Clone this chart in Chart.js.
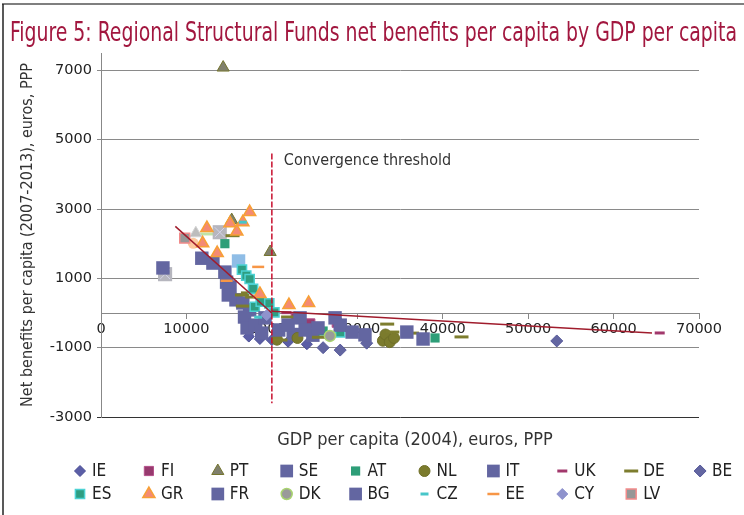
<!DOCTYPE html>
<html>
<head>
<meta charset="utf-8">
<script src="https://cdn.jsdelivr.net/npm/chart.js@4.4.1/dist/chart.umd.min.js"></script>
<style>
  html, body { margin: 0; padding: 0; background: #fff; }
  canvas { display: block; }
</style>
</head>
<body>
<canvas id="chart" width="744" height="515"></canvas>
<script>
// Legend order (two rows of ten / nine)
const countries = ['IE', 'FI', 'PT', 'SE', 'AT', 'NL', 'IT', 'UK', 'DE', 'BE',
                   'ES', 'GR', 'FR', 'DK', 'BG', 'CZ', 'EE', 'CY', 'LV'];

// [GDP per capita 2004, net benefit per capita 2007-2013]
const IE = [[18600, -750], [20000, -780], [21900, -830], [24100, -900], [17300, -680]];
const FI = [[22800, -150], [24500, -300], [27600, -280]];
const PT = [[14300, 7080], [15300, 2680], [19800, 1760]];
const SE = [[27400, -140], [24800, -640], [22500, -620]];
const AT = [[14500, 2000], [26000, -520], [39100, -720]];
const NL = [[20600, -770], [23000, -720], [33000, -800], [33300, -620], [33800, -840], [34300, -720]];
const IT = [[11800, 1580], [13100, 1440], [14500, 1180], [14700, 890], [15100, 750], [14900, 520],
            [15800, 380], [16600, 290], [17400, 90], [16800, -115], [17100, -430], [18100, -350], [18800, -580]];
const UK = [[21700, 10], [23400, -40], [65400, -576]];
const DE = [[15400, 2230], [16500, 520], [16600, 200], [17200, 580], [17700, 460], [21900, -115], [21000, -780],
            [25500, -700], [33500, -320], [34100, -550], [36400, -580], [42200, -690]];
const BE = [[26000, -1000], [28000, -1070], [31100, -870], [53350, -806]];
const ES = [[16500, 1250], [17000, 1080], [17400, 980], [17800, 700], [18000, 180], [18700, 330],
            [19700, 280], [20300, 20], [28000, -560]];
const GR = [[11900, 2010], [12400, 2450], [13600, 1730], [15100, 2590], [15900, 2350], [16600, 2620],
            [17400, 2910], [18600, 550], [22000, 230], [24300, 290]];
const FR = [[19200, -140], [20800, -490], [21900, -350], [23300, -140], [23900, -490], [25400, -430],
            [28000, -350], [29400, -550], [30900, -630], [35800, -550], [37700, -750]];
const DK = [[26800, -660]];
const BG = [[7250, 1300]];
const CZ = [[16600, 2620], [18400, -120]];
const EE = [[14700, 930], [18400, 1330]];
const CY = [[19400, -60]];
const LV = [[9800, 2160]];

// regions plotted but not listed in the legend
const greySquares = [[7500, 1120], [13900, 2330]];
const blueSquares = [[16100, 1500]];
const peachDots = [[10800, 2010]];
const greyTriangles = [[11100, 2300]];
const paleDashes = [[12400, 2280]];

// trend lines and the convergence threshold
const trendLow = [[8700, 2500], [20000, 0]];
const trendHigh = [[20000, 50], [64500, -580]];
const threshold = [[20000, 4600], [20000, -2600]];
const thresholdLabel = 'Convergence threshold';

const xTicks = [0, 10000, 20000, 30000, 40000, 50000, 60000, 70000];
const yTicks = [-3000, -1000, 1000, 3000, 5000, 7000];

const seriesData = { IE, FI, PT, SE, AT, NL, IT, UK, DE, BE, ES, GR, FR, DK, BG, CZ, EE, CY, LV };

const slate = { shape: 'rect', size: 9.5, fill: '#6366a1', line: '#6366a1', lw: 0 };
const styles = {
    IE: { shape: 'rectRot', size: 5.5, fill: '#5b5ea6', line: '#484b94', lw: 1 },
    FI: { shape: 'rect', size: 6.5, fill: '#973a6e', line: '#b5508a', lw: 1 },
    PT: { shape: 'triangle', size: 7, fill: '#80806c', line: '#75752e', lw: 1 },
    SE: slate,
    AT: { shape: 'rect', size: 6.5, fill: '#2e9e78', line: '#2e9e78', lw: 0 },
    NL: { shape: 'circle', size: 5.5, fill: '#7b7b2d', line: '#6f6f28', lw: 1 },
    IT: slate,
    UK: { shape: 'line', size: 5, fill: '#a2386c', line: '#a2386c', lw: 3 },
    DE: { shape: 'line', size: 7, fill: '#7d7d2e', line: '#7d7d2e', lw: 3 },
    BE: { shape: 'rectRot', size: 6, fill: '#6366a1', line: '#555899', lw: 1 },
    ES: { shape: 'rect', size: 6.5, fill: '#2e9e82', line: '#4cd2d4', lw: 1.5 },
    GR: { shape: 'triangle', size: 7, fill: '#f48a74', line: '#f7a035', lw: 1.5 },
    FR: slate,
    DK: { shape: 'circle', size: 5.5, fill: '#9a9a9a', line: '#a9d46f', lw: 1.5 },
    BG: slate,
    CZ: { shape: 'line', size: 4, fill: '#47c6c9', line: '#47c6c9', lw: 3 },
    EE: { shape: 'line', size: 6, fill: '#f79646', line: '#f79646', lw: 2.5 },
    CY: { shape: 'rectRot', size: 5.5, fill: '#8f93cd', line: '#8f93cd', lw: 1 },
    LV: { shape: 'rect', size: 7, fill: '#979797', line: '#f28b8b', lw: 1.5 }
};

const narrow = '"Liberation Sans Narrow", "DejaVu Sans Condensed", sans-serif';
const toXY = arr => arr.map(p => ({ x: p[0], y: p[1] }));

function scatterSet(label, data, s, order) {
    return {
        type: 'scatter', label, data: toXY(data), order,
        pointStyle: s.shape, pointRadius: s.size, pointHoverRadius: s.size,
        backgroundColor: s.fill, borderColor: s.line, borderWidth: s.lw
    };
}

function lineSet(label, data, color, dash) {
    return {
        type: 'line', label, data: toXY(data), order: -100,
        borderColor: color, borderWidth: 1.5, borderDash: dash || [],
        pointRadius: 0, fill: false, tension: 0
    };
}

const datasets = [
    scatterSet('', greySquares, { shape: 'rect', size: 10, fill: '#b6b6be', line: '#b6b6be', lw: 0 }, 1),
    scatterSet('', greySquares, { shape: 'crossRot', size: 7, fill: '#d4d4ea', line: '#d4d4ea', lw: 1 }, 0.5),
    scatterSet('', blueSquares, { shape: 'rect', size: 9.5, fill: '#8fbde6', line: '#8fbde6', lw: 0 }, 1),
    scatterSet('', peachDots, { shape: 'circle', size: 5.5, fill: '#fcc9a0', line: '#fcc9a0', lw: 0 }, 1),
    scatterSet('', greyTriangles, { shape: 'triangle', size: 7, fill: '#bdbdbd', line: '#d2d2d2', lw: 1 }, 1),
    scatterSet('', paleDashes, { shape: 'line', size: 7, fill: '#bfe3a6', line: '#bfe3a6', lw: 3 }, 1)
];
countries.forEach((c, i) => datasets.push(scatterSet(c, seriesData[c], styles[c], -i)));
datasets.push(lineSet('trend', trendLow, '#a01c2c'));
datasets.push(lineSet('trend', trendHigh, '#a01c2c'));
datasets.push(lineSet('threshold', threshold, '#c8102e', [6, 2]));

// title, x title, threshold label, frame and the grid-style legend
const decorations = {
    id: 'decorations',
    beforeDraw(chart) {
        const ctx = chart.ctx;
        ctx.save();
        ctx.strokeStyle = '#7f7f7f';
        ctx.lineWidth = 2;
        ctx.beginPath(); ctx.moveTo(2, 4); ctx.lineTo(744, 4); ctx.stroke();
        ctx.strokeStyle = '#222';
        ctx.lineWidth = 1.5;
        ctx.beginPath(); ctx.moveTo(3, 4); ctx.lineTo(3, 515); ctx.stroke();
        ctx.restore();
    },
    afterDraw(chart) {
        const ctx = chart.ctx;
        const { x, y } = chart.scales;
        ctx.save();

        // title squeezed to the reference width
        const title = 'Figure 5: Regional Structural Funds net benefits per capita by GDP per capita';
        ctx.font = '27px ' + narrow;
        ctx.fillStyle = '#a2173f';
        ctx.textBaseline = 'alphabetic';
        const tw = ctx.measureText(title).width;
        ctx.save();
        ctx.translate(10, 41);
        ctx.scale(727 / tw, 1);
        ctx.fillText(title, 0, 0);
        ctx.restore();

        // x axis title
        ctx.font = '18px ' + narrow;
        ctx.fillStyle = '#333';
        ctx.textAlign = 'center';
        ctx.textBaseline = 'middle';
        ctx.fillText('GDP per capita (2004), euros, PPP', 415, 440);

        // threshold label
        ctx.font = '16px ' + narrow;
        ctx.textAlign = 'left';
        ctx.fillText(thresholdLabel, x.getPixelForValue(threshold[0][0]) + 12, y.getPixelForValue(threshold[0][1]) + 7);

        // legend
        countries.forEach((c, i) => {
            const s = styles[c];
            const lx = 80 + (i % 10) * 68.9;
            const ly = i < 10 ? 471 : 494;
            ctx.fillStyle = s.fill;
            ctx.strokeStyle = s.line;
            ctx.lineWidth = s.lw;
            Chart.helpers.drawPoint(ctx, { pointStyle: s.shape, radius: Math.min(s.size, 9), rotation: 0, borderWidth: s.lw }, lx, ly);
            ctx.fillStyle = '#222';
            ctx.font = '17px ' + narrow;
            ctx.textAlign = 'left';
            ctx.textBaseline = 'middle';
            ctx.fillText(c, lx + 12, ly + 1);
        });
        ctx.restore();
    }
};

const tickFont = { family: '"DejaVu Sans", Verdana, sans-serif', size: 14.5 };

new Chart(document.getElementById('chart'), {
    data: { datasets },
    options: {
        responsive: false,
        animation: false,
        devicePixelRatio: 1,
        layout: { padding: { top: 53, right: 45, bottom: 98, left: 0 } },
        plugins: {
            legend: { display: false },
            tooltip: { enabled: false }
        },
        scales: {
            x: {
                type: 'linear',
                position: { y: 0 },
                min: 0,
                max: 70000,
                afterBuildTicks: axis => { axis.ticks = xTicks.map(v => ({ value: v })); },
                afterFit: axis => { axis.height = 0; },
                grid: { display: true, drawOnChartArea: false, drawTicks: true, tickLength: 5, color: '#888' },
                border: { display: true, color: '#888', width: 1 },
                ticks: { color: '#222', font: tickFont, padding: 3, maxRotation: 0, callback: v => String(v) }
            },
            y: {
                type: 'linear',
                position: 'left',
                min: -3000,
                max: 7500,
                afterBuildTicks: axis => { axis.ticks = yTicks.map(v => ({ value: v })); },
                afterFit: axis => { axis.width = 101; },
                grid: {
                    color: ctx => (ctx.tick && ctx.tick.value === -3000 ? '#333' : '#8a8a8a'),
                    tickLength: 4
                },
                border: { display: true, color: '#888', width: 1 },
                ticks: { color: '#222', font: tickFont, padding: 5, callback: v => String(v) },
                title: {
                    display: true,
                    text: 'Net benefits per capita (2007-2013), euros, PPP',
                    color: '#333',
                    font: { family: narrow, size: 16 },
                    padding: { top: 18, bottom: 0 }
                }
            }
        }
    },
    plugins: [decorations]
});
</script>
</body>
</html>
